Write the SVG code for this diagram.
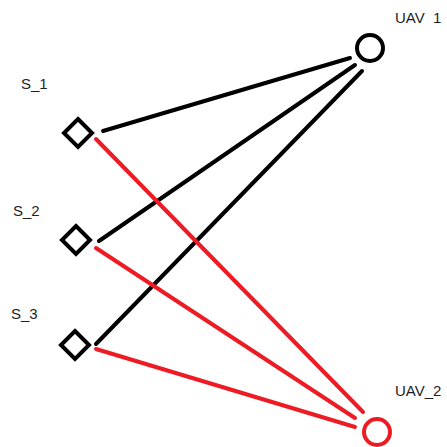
<svg xmlns="http://www.w3.org/2000/svg" width="447" height="447" viewBox="0 0 447 447">
  <style>
    .lbl { font-family: "Liberation Sans", Arial, sans-serif; font-size: 15px; fill: #1e1e28; white-space: pre; }
    .node { fill: none; stroke-width: 4; }
    .black { stroke: #000; }
    .red { stroke: #ed1c24; }
    .link { stroke-width: 4; stroke-linecap: round; fill: none; }
  </style>
  <rect width="447" height="447" fill="#fff"/>

  <g id="connectors">
    <!-- sensors to UAV 1 -->
    <line class="link black" x1="103" y1="131" x2="350" y2="58"/>
    <line class="link black" x1="99" y1="241" x2="355" y2="65"/>
    <line class="link black" x1="96" y1="344" x2="362" y2="71"/>
    <!-- sensors to UAV_2 -->
    <line class="link red" x1="96" y1="139" x2="363" y2="412"/>
    <line class="link red" x1="96" y1="248" x2="355" y2="418"/>
    <line class="link red" x1="96" y1="349" x2="355" y2="427"/>
  </g>

  <g id="uav1">
    <circle class="node black" cx="370" cy="48" r="13"/>
    <text class="lbl" x="395" y="23">UAV  1</text>
  </g>
  <g id="uav2">
    <circle class="node red" cx="377" cy="432" r="13"/>
    <text class="lbl" x="395" y="396">UAV_2</text>
  </g>

  <g id="s1">
    <polygon class="node black" points="78,119 92,133 78,147 64,133"/>
    <text class="lbl" x="21" y="89">S_1</text>
  </g>
  <g id="s2">
    <polygon class="node black" points="76,226 90,240 76,254 62,240"/>
    <text class="lbl" x="13" y="216">S_2</text>
  </g>
  <g id="s3">
    <polygon class="node black" points="75,331 89,345 75,359 61,345"/>
    <text class="lbl" x="11" y="319">S_3</text>
  </g>
</svg>
